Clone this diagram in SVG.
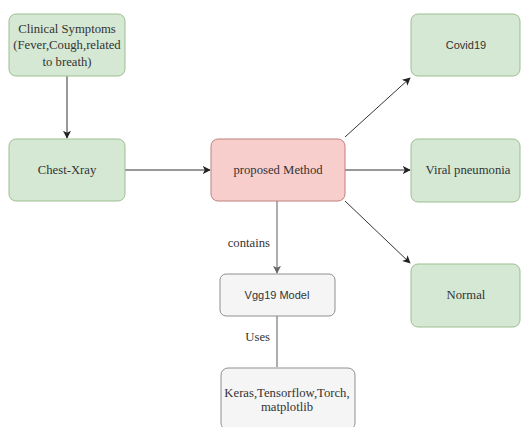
<svg xmlns="http://www.w3.org/2000/svg" width="522" height="427" viewBox="0 0 522 427">
<style>
.g{fill:#d5e8d4;stroke:#9dbf91;stroke-width:1}
.p{fill:#f8cecc;stroke:#c0807e;stroke-width:1}
.n{fill:#f5f5f5;stroke:#8f8f8f;stroke-width:1}
.s{font-family:"Liberation Serif","DejaVu Serif",serif;font-size:12.7px;fill:#333;text-anchor:middle}
.a{font-family:"Liberation Sans",Arial,sans-serif;font-size:11px;fill:#333;text-anchor:middle}
.e{fill:none;stroke:#333;stroke-width:1}
.e2{fill:none;stroke:#777;stroke-width:1.2}
</style>
<defs>
<marker id="ar" viewBox="0 0 10 10" refX="9" refY="5" markerWidth="8" markerHeight="8" markerUnits="userSpaceOnUse" orient="auto">
<path d="M0,0 L10,5 L0,10 L2.5,5 Z" fill="#222"/>
</marker>
<marker id="ag" viewBox="0 0 10 10" refX="9" refY="5" markerWidth="8" markerHeight="8" markerUnits="userSpaceOnUse" orient="auto">
<path d="M0,0 L10,5 L0,10 L2.5,5 Z" fill="#666"/>
</marker>
</defs>
<rect width="522" height="427" fill="#fff"/>
<g id="connectors">
<line class="e" x1="67" y1="76" x2="67" y2="138" marker-end="url(#ar)"/>
<line class="e" x1="125" y1="170" x2="210" y2="170" marker-end="url(#ar)"/>
<line class="e" x1="345" y1="137" x2="410" y2="78" marker-end="url(#ar)"/>
<line class="e" x1="345" y1="170" x2="410" y2="170" marker-end="url(#ar)"/>
<line class="e" x1="345" y1="201" x2="410" y2="263" marker-end="url(#ar)"/>
<line class="e2" x1="277" y1="201" x2="277" y2="273" marker-end="url(#ag)"/>
<line class="e2" x1="277" y1="316" x2="277" y2="367"/>
<text class="s" x="270" y="247" style="text-anchor:end">contains</text>
<text class="s" x="270" y="341" style="text-anchor:end">Uses</text>
</g>
<g id="clinical">
<rect class="g" x="9" y="14" width="116" height="62" rx="7"/>
<text class="s" x="67" y="33">Clinical Symptoms</text>
<text class="s" x="67" y="49">(Fever,Cough,related</text>
<text class="s" x="67" y="66">to breath)</text>
</g>
<g id="chest">
<rect class="g" x="9" y="139" width="116" height="62" rx="7"/>
<text class="s" x="67" y="174">Chest-Xray</text>
</g>
<g id="method">
<rect class="p" x="211" y="139" width="134" height="62" rx="7"/>
<text class="s" x="278" y="174">proposed Method</text>
</g>
<g id="covid">
<rect class="g" x="411" y="14" width="109" height="62" rx="7"/>
<text class="a" x="466" y="49">Covid19</text>
</g>
<g id="viral">
<rect class="g" x="411" y="139" width="109" height="63" rx="7"/>
<text class="s" x="468" y="174">Viral pneumonia</text>
</g>
<g id="normal">
<rect class="g" x="411" y="264" width="109" height="63" rx="7"/>
<text class="s" x="466" y="299">Normal</text>
</g>
<g id="vgg">
<rect class="n" x="220" y="274" width="115" height="42" rx="6"/>
<text class="a" x="277" y="299">Vgg19 Model</text>
</g>
<g id="keras">
<rect class="n" x="221" y="368" width="134" height="62" rx="7"/>
<text class="s" x="287" y="397">Keras,Tensorflow,Torch,</text>
<text class="s" x="287" y="411">matplotlib</text>
</g>
</svg>
